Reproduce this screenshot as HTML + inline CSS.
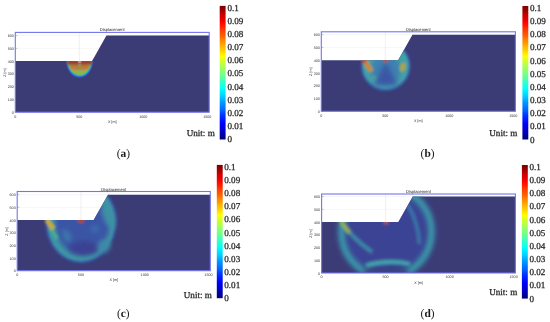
<!DOCTYPE html>
<html><head><meta charset="utf-8"><style>
html,body{margin:0;padding:0;background:#fff;}
body{width:550px;height:322px;overflow:hidden;}
svg{display:block;}
.tk{font-family:"Liberation Sans",sans-serif;font-size:3.7px;fill:#333;}
.ttl{font-family:"Liberation Sans",sans-serif;font-size:4.1px;fill:#222;}
.cb{font-family:"Liberation Serif",serif;font-size:9.1px;fill:#2a2a2a;stroke:#2a2a2a;stroke-width:0.28px;}
.tag{font-family:"Liberation Serif",serif;font-size:11.4px;fill:#1a1a1a;}
text{text-rendering:geometricPrecision;}
</style></head><body>
<svg width="550" height="322" viewBox="0 0 550 322">
<defs><linearGradient id="jet" x1="0" y1="0" x2="0" y2="1"><stop offset="0" stop-color="#800000"/><stop offset="0.03" stop-color="#990000"/><stop offset="0.05" stop-color="#b30000"/><stop offset="0.07" stop-color="#cc0000"/><stop offset="0.1" stop-color="#e50000"/><stop offset="0.12" stop-color="#ff0000"/><stop offset="0.15" stop-color="#ff1a00"/><stop offset="0.17" stop-color="#ff3300"/><stop offset="0.2" stop-color="#ff4c00"/><stop offset="0.23" stop-color="#ff6600"/><stop offset="0.25" stop-color="#ff8000"/><stop offset="0.28" stop-color="#ff9900"/><stop offset="0.3" stop-color="#ffb300"/><stop offset="0.33" stop-color="#ffcc00"/><stop offset="0.35" stop-color="#ffe500"/><stop offset="0.38" stop-color="#ffff00"/><stop offset="0.4" stop-color="#e5ff1a"/><stop offset="0.42" stop-color="#ccff33"/><stop offset="0.45" stop-color="#b3ff4c"/><stop offset="0.47" stop-color="#99ff66"/><stop offset="0.5" stop-color="#80ff80"/><stop offset="0.53" stop-color="#66ff99"/><stop offset="0.55" stop-color="#4cffb3"/><stop offset="0.57" stop-color="#33ffcc"/><stop offset="0.6" stop-color="#1affe5"/><stop offset="0.62" stop-color="#00ffff"/><stop offset="0.65" stop-color="#00e5ff"/><stop offset="0.68" stop-color="#00ccff"/><stop offset="0.7" stop-color="#00b3ff"/><stop offset="0.72" stop-color="#0099ff"/><stop offset="0.75" stop-color="#0080ff"/><stop offset="0.78" stop-color="#0066ff"/><stop offset="0.8" stop-color="#004cff"/><stop offset="0.82" stop-color="#0033ff"/><stop offset="0.85" stop-color="#001aff"/><stop offset="0.88" stop-color="#0000ff"/><stop offset="0.9" stop-color="#0000e5"/><stop offset="0.93" stop-color="#0000cc"/><stop offset="0.95" stop-color="#0000b3"/><stop offset="0.97" stop-color="#000099"/><stop offset="1" stop-color="#000080"/></linearGradient>
<filter id="bl05" x="-50%" y="-50%" width="200%" height="200%"><feGaussianBlur stdDeviation="0.6"/></filter>
<filter id="bl1" x="-50%" y="-50%" width="200%" height="200%"><feGaussianBlur stdDeviation="1.0"/></filter>
<filter id="bl15" x="-50%" y="-50%" width="200%" height="200%"><feGaussianBlur stdDeviation="1.4"/></filter>
<filter id="bl2" x="-50%" y="-50%" width="200%" height="200%"><feGaussianBlur stdDeviation="2.0"/></filter>
<filter id="bl25" x="-50%" y="-50%" width="200%" height="200%"><feGaussianBlur stdDeviation="2.6"/></filter>
<clipPath id="clipa"><polygon points="15.3,61.12 92.1,61.12 106.44,35.58 209.2,35.58 209.2,112.2 15.3,112.2"/></clipPath>
<clipPath id="clipb"><polygon points="321.3,60.22 398.1,60.22 412.44,34.68 515.4,34.68 515.4,111.3 321.3,111.3"/></clipPath>
<clipPath id="clipc"><polygon points="17.2,220.02 93.7,220.02 107.98,194.68 210.3,194.68 210.3,270.7 17.2,270.7"/></clipPath>
<clipPath id="clipd"><polygon points="321.6,222.08 398.4,222.08 412.74,196.62 515.4,196.62 515.4,273 321.6,273"/></clipPath></defs>
<rect x="15.3" y="32.4" width="193.9" height="79.8" fill="#fff"/>
<line x1="15.3" y1="48.35" x2="209.2" y2="48.35" stroke="#ececec" stroke-width="0.5"/>
<line x1="15.3" y1="48.35" x2="17.3" y2="48.35" stroke="#888" stroke-width="0.5"/>
<line x1="15.3" y1="35.58" x2="209.2" y2="35.58" stroke="#ececec" stroke-width="0.5"/>
<line x1="15.3" y1="35.58" x2="17.3" y2="35.58" stroke="#888" stroke-width="0.5"/>
<line x1="79.3" y1="32.4" x2="79.3" y2="61.12" stroke="#e0e0e0" stroke-width="0.5"/>
<polygon points="15.3,61.12 92.1,61.12 106.44,35.58 209.2,35.58 209.2,112.2 15.3,112.2" fill="#3b3c76"/>
<g clip-path="url(#clipa)"><g filter="url(#bl05)"><ellipse cx="79.6" cy="61.12" rx="13.8" ry="16.9" fill="#3a4aa6"/><ellipse cx="79.6" cy="61.12" rx="13.11" ry="16.05" fill="#2c6ccc"/><ellipse cx="79.6" cy="61.12" rx="12.28" ry="15.04" fill="#38aec0"/><ellipse cx="79.6" cy="61.12" rx="11.45" ry="14.03" fill="#78b864"/><ellipse cx="79.6" cy="61.12" rx="10.63" ry="13.01" fill="#a8aa4a"/><ellipse cx="80.6" cy="69.62" rx="4.5" ry="4" fill="#8cb45a" filter="url(#bl1)"/><ellipse cx="74.6" cy="68.12" rx="3" ry="3" fill="#b4a046" filter="url(#bl1)"/><ellipse cx="84.6" cy="67.12" rx="3" ry="3" fill="#bc9844" filter="url(#bl1)"/><ellipse cx="79.6" cy="66.62" rx="10.5" ry="3" fill="#b47a3e" filter="url(#bl1)"/><rect x="67.1" y="59.62" width="25" height="5" fill="#9c3e2e" filter="url(#bl1)"/><ellipse cx="79.6" cy="64.92" rx="1.2" ry="2.2" fill="#8aa86a" filter="url(#bl1)"/><ellipse cx="79.6" cy="61.72" rx="1.8" ry="1.4" fill="#d08a78" filter="url(#bl05)"/></g></g>
<rect x="15.3" y="32.4" width="193.9" height="79.8" fill="none" stroke="#7474f0" stroke-width="1.1"/>
<text x="13.8" y="113.8" class="tk" text-anchor="end">0</text>
<text x="13.8" y="101.03" class="tk" text-anchor="end">100</text>
<text x="13.8" y="88.26" class="tk" text-anchor="end">200</text>
<text x="13.8" y="75.49" class="tk" text-anchor="end">300</text>
<text x="13.8" y="62.72" class="tk" text-anchor="end">400</text>
<text x="13.8" y="49.95" class="tk" text-anchor="end">500</text>
<text x="13.8" y="37.18" class="tk" text-anchor="end">600</text>
<text x="15.3" y="117.5" class="tk" text-anchor="middle">0</text>
<text x="79.3" y="117.5" class="tk" text-anchor="middle">500</text>
<text x="143.3" y="117.5" class="tk" text-anchor="middle">1000</text>
<text x="207.3" y="117.5" class="tk" text-anchor="middle">1500</text>
<text x="112.2" y="122.8" class="tk" text-anchor="middle">X [m]</text>
<text x="6" y="72.61" class="tk" text-anchor="middle" transform="rotate(-90 6 72.61)">Z [m]</text>
<text x="112.25" y="31.4" class="ttl" text-anchor="middle">Displacement</text>
<rect x="219.7" y="5.9" width="5.9" height="133.6" fill="url(#jet)"/>
<text x="227.4" y="142.2" class="cb">0</text>
<text x="227.4" y="129.03" class="cb">0.01</text>
<text x="227.4" y="115.86" class="cb">0.02</text>
<text x="227.4" y="102.69" class="cb">0.03</text>
<text x="227.4" y="89.52" class="cb">0.04</text>
<text x="227.4" y="76.35" class="cb">0.05</text>
<text x="227.4" y="63.18" class="cb">0.06</text>
<text x="227.4" y="50.01" class="cb">0.07</text>
<text x="227.4" y="36.84" class="cb">0.08</text>
<text x="227.4" y="23.67" class="cb">0.09</text>
<text x="227.4" y="10.5" class="cb">0.1</text>
<text x="186.7" y="136" class="cb">Unit: m</text>
<text x="116.8" y="157.4" class="tag">(<tspan font-weight="bold">a</tspan>)</text>
<rect x="321.3" y="31.8" width="194.1" height="79.5" fill="#fff"/>
<line x1="321.3" y1="47.45" x2="515.4" y2="47.45" stroke="#ececec" stroke-width="0.5"/>
<line x1="321.3" y1="47.45" x2="323.3" y2="47.45" stroke="#888" stroke-width="0.5"/>
<line x1="321.3" y1="34.68" x2="515.4" y2="34.68" stroke="#ececec" stroke-width="0.5"/>
<line x1="321.3" y1="34.68" x2="323.3" y2="34.68" stroke="#888" stroke-width="0.5"/>
<line x1="385.3" y1="31.8" x2="385.3" y2="60.22" stroke="#e0e0e0" stroke-width="0.5"/>
<polygon points="321.3,60.22 398.1,60.22 412.44,34.68 515.4,34.68 515.4,111.3 321.3,111.3" fill="#3b3c76"/>
<g clip-path="url(#clipb)"><g filter="url(#bl1)"><circle cx="385.7" cy="65.97" r="24.8" fill="#3a66ac"/><circle cx="385.7" cy="65.97" r="22.8" fill="#44a2a6"/><ellipse cx="385.7" cy="69.97" rx="15" ry="16" fill="#3c82b0" filter="url(#bl2)"/><polygon points="385.7,61.22 373.7,84.97 397.7,84.97" fill="#3a56a6" filter="url(#bl25)"/><ellipse cx="373.7" cy="77.97" rx="3" ry="3" fill="#4a9aa0" filter="url(#bl1)"/><path d="M364.7,61.22 L371.7,71.22" stroke="#c48c40" stroke-width="5" fill="none"/><circle cx="364.2" cy="61.22" r="2.2" fill="#c85030"/><ellipse cx="402.7" cy="67.22" rx="2.8" ry="4.5" fill="#aaa444" transform="rotate(20 402.7 67.22)"/><circle cx="385.7" cy="60.22" r="2.3" fill="#c44a30"/></g></g>
<rect x="321.3" y="31.8" width="194.1" height="79.5" fill="none" stroke="#7474f0" stroke-width="1.1"/>
<text x="319.8" y="112.9" class="tk" text-anchor="end">0</text>
<text x="319.8" y="100.13" class="tk" text-anchor="end">100</text>
<text x="319.8" y="87.36" class="tk" text-anchor="end">200</text>
<text x="319.8" y="74.59" class="tk" text-anchor="end">300</text>
<text x="319.8" y="61.82" class="tk" text-anchor="end">400</text>
<text x="319.8" y="49.05" class="tk" text-anchor="end">500</text>
<text x="319.8" y="36.28" class="tk" text-anchor="end">600</text>
<text x="321.3" y="116.6" class="tk" text-anchor="middle">0</text>
<text x="385.3" y="116.6" class="tk" text-anchor="middle">500</text>
<text x="449.3" y="116.6" class="tk" text-anchor="middle">1000</text>
<text x="513.3" y="116.6" class="tk" text-anchor="middle">1500</text>
<text x="418.2" y="121.9" class="tk" text-anchor="middle">X [m]</text>
<text x="312" y="71.71" class="tk" text-anchor="middle" transform="rotate(-90 312 71.71)">Z [m]</text>
<text x="418.35" y="30.8" class="ttl" text-anchor="middle">Displacement</text>
<rect x="522.4" y="6" width="5.9" height="133.5" fill="url(#jet)"/>
<text x="529.9" y="142.6" class="cb">0</text>
<text x="529.9" y="129.43" class="cb">0.01</text>
<text x="529.9" y="116.26" class="cb">0.02</text>
<text x="529.9" y="103.09" class="cb">0.03</text>
<text x="529.9" y="89.92" class="cb">0.04</text>
<text x="529.9" y="76.75" class="cb">0.05</text>
<text x="529.9" y="63.58" class="cb">0.06</text>
<text x="529.9" y="50.41" class="cb">0.07</text>
<text x="529.9" y="37.24" class="cb">0.08</text>
<text x="529.9" y="24.07" class="cb">0.09</text>
<text x="529.9" y="10.9" class="cb">0.1</text>
<text x="489.3" y="136" class="cb">Unit: m</text>
<text x="420.6" y="157.4" class="tag">(<tspan font-weight="bold">b</tspan>)</text>
<rect x="17.2" y="191.5" width="193.1" height="79.2" fill="#fff"/>
<line x1="17.2" y1="207.35" x2="210.3" y2="207.35" stroke="#ececec" stroke-width="0.5"/>
<line x1="17.2" y1="207.35" x2="19.2" y2="207.35" stroke="#888" stroke-width="0.5"/>
<line x1="17.2" y1="194.68" x2="210.3" y2="194.68" stroke="#ececec" stroke-width="0.5"/>
<line x1="17.2" y1="194.68" x2="19.2" y2="194.68" stroke="#888" stroke-width="0.5"/>
<line x1="80.95" y1="191.5" x2="80.95" y2="220.02" stroke="#e0e0e0" stroke-width="0.5"/>
<polygon points="17.2,220.02 93.7,220.02 107.98,194.68 210.3,194.68 210.3,270.7 17.2,270.7" fill="#3b3c76"/>
<g clip-path="url(#clipc)"><g filter="url(#bl1)"><ellipse cx="81" cy="222" rx="35.8" ry="41.2" fill="#3a5aa8"/><ellipse cx="81" cy="222" rx="33.6" ry="39" fill="#3e98a4"/><ellipse cx="82.5" cy="223" rx="27.5" ry="32.5" fill="#3a54a6" filter="url(#bl2)"/><ellipse cx="67" cy="236" rx="3.5" ry="7" fill="#3a7cac" filter="url(#bl2)" transform="rotate(-30 67 236)"/><ellipse cx="95" cy="229" rx="4" ry="4" fill="#3a6cac" filter="url(#bl2)"/><ellipse cx="84" cy="248" rx="15" ry="7" fill="#3a4292" filter="url(#bl2)"/><ellipse cx="108" cy="214" rx="5.5" ry="15" fill="#3e92a6" filter="url(#bl2)" transform="rotate(-18 108 214)"/><ellipse cx="104" cy="246" rx="6" ry="7" fill="#3c8aa8" filter="url(#bl2)" transform="rotate(40 104 246)"/><path d="M50,226 L57,239" stroke="#4aa896" stroke-width="4" fill="none"/><path d="M46.5,219.5 L53.5,229" stroke="#c2aa40" stroke-width="5" fill="none"/><ellipse cx="81" cy="220.4" rx="3.2" ry="2.6" fill="#a84838"/></g></g>
<rect x="17.2" y="191.5" width="193.1" height="79.2" fill="none" stroke="#7474f0" stroke-width="1.1"/>
<text x="15.7" y="272.3" class="tk" text-anchor="end">0</text>
<text x="15.7" y="259.63" class="tk" text-anchor="end">100</text>
<text x="15.7" y="246.96" class="tk" text-anchor="end">200</text>
<text x="15.7" y="234.29" class="tk" text-anchor="end">300</text>
<text x="15.7" y="221.62" class="tk" text-anchor="end">400</text>
<text x="15.7" y="208.95" class="tk" text-anchor="end">500</text>
<text x="15.7" y="196.28" class="tk" text-anchor="end">600</text>
<text x="17.2" y="276" class="tk" text-anchor="middle">0</text>
<text x="80.95" y="276" class="tk" text-anchor="middle">500</text>
<text x="144.7" y="276" class="tk" text-anchor="middle">1000</text>
<text x="208.45" y="276" class="tk" text-anchor="middle">1500</text>
<text x="113.72" y="281.3" class="tk" text-anchor="middle">X [m]</text>
<text x="7.9" y="231.42" class="tk" text-anchor="middle" transform="rotate(-90 7.9 231.42)">Z [m]</text>
<text x="113.75" y="190.5" class="ttl" text-anchor="middle">Displacement</text>
<rect x="216.8" y="164.9" width="5.9" height="133.3" fill="url(#jet)"/>
<text x="224.3" y="301.1" class="cb">0</text>
<text x="224.3" y="287.99" class="cb">0.01</text>
<text x="224.3" y="274.88" class="cb">0.02</text>
<text x="224.3" y="261.77" class="cb">0.03</text>
<text x="224.3" y="248.66" class="cb">0.04</text>
<text x="224.3" y="235.55" class="cb">0.05</text>
<text x="224.3" y="222.44" class="cb">0.06</text>
<text x="224.3" y="209.33" class="cb">0.07</text>
<text x="224.3" y="196.22" class="cb">0.08</text>
<text x="224.3" y="183.11" class="cb">0.09</text>
<text x="224.3" y="170" class="cb">0.1</text>
<text x="183.8" y="297.7" class="cb">Unit: m</text>
<text x="117" y="316.6" class="tag">(<tspan font-weight="bold">c</tspan>)</text>
<rect x="321.6" y="194" width="193.8" height="79" fill="#fff"/>
<line x1="321.6" y1="209.35" x2="515.4" y2="209.35" stroke="#ececec" stroke-width="0.5"/>
<line x1="321.6" y1="209.35" x2="323.6" y2="209.35" stroke="#888" stroke-width="0.5"/>
<line x1="321.6" y1="196.62" x2="515.4" y2="196.62" stroke="#ececec" stroke-width="0.5"/>
<line x1="321.6" y1="196.62" x2="323.6" y2="196.62" stroke="#888" stroke-width="0.5"/>
<line x1="385.6" y1="194" x2="385.6" y2="222.08" stroke="#e0e0e0" stroke-width="0.5"/>
<polygon points="321.6,222.08 398.4,222.08 412.74,196.62 515.4,196.62 515.4,273 321.6,273" fill="#3b3c76"/>
<g clip-path="url(#clipd)"><g filter="url(#bl15)"><ellipse cx="386.5" cy="232" rx="43" ry="43" fill="#3a46a2" filter="url(#bl2)" opacity="0.7"/><circle cx="386.5" cy="232" r="45" fill="none" stroke="#3a7aa8" stroke-width="12" opacity="0.35"/><circle cx="386.5" cy="232" r="45" fill="none" stroke="#3a94a8" stroke-width="6" opacity="0.85"/><path d="M341.5,222 Q352,238 372,252" stroke="#3a92aa" stroke-width="3.8" fill="none" opacity="0.9"/><path d="M340.5,221 L349.5,233" stroke="#92b050" stroke-width="4" fill="none"/><path d="M366,265.5 Q388,259 410,264" stroke="#42a4ac" stroke-width="4.2" fill="none"/><path d="M408,205 Q418,222 419.5,244" stroke="#3a7eaa" stroke-width="3.6" fill="none" opacity="0.85"/><rect x="364" y="269.5" width="44" height="8" fill="#3b3c76" filter="url(#bl2)"/><circle cx="386" cy="222" r="2.3" fill="#c05a34"/></g></g>
<rect x="321.6" y="194" width="193.8" height="79" fill="none" stroke="#7474f0" stroke-width="1.1"/>
<text x="320.1" y="274.6" class="tk" text-anchor="end">0</text>
<text x="320.1" y="261.87" class="tk" text-anchor="end">100</text>
<text x="320.1" y="249.14" class="tk" text-anchor="end">200</text>
<text x="320.1" y="236.41" class="tk" text-anchor="end">300</text>
<text x="320.1" y="223.68" class="tk" text-anchor="end">400</text>
<text x="320.1" y="210.95" class="tk" text-anchor="end">500</text>
<text x="320.1" y="198.22" class="tk" text-anchor="end">600</text>
<text x="321.6" y="278.3" class="tk" text-anchor="middle">0</text>
<text x="385.6" y="278.3" class="tk" text-anchor="middle">500</text>
<text x="449.6" y="278.3" class="tk" text-anchor="middle">1000</text>
<text x="513.6" y="278.3" class="tk" text-anchor="middle">1500</text>
<text x="418.5" y="283.6" class="tk" text-anchor="middle">X [m]</text>
<text x="312.3" y="233.54" class="tk" text-anchor="middle" transform="rotate(-90 312.3 233.54)">Z [m]</text>
<text x="418.5" y="193" class="ttl" text-anchor="middle">Displacement</text>
<rect x="521.9" y="165" width="5.9" height="133.6" fill="url(#jet)"/>
<text x="529.5" y="301.6" class="cb">0</text>
<text x="529.5" y="288.44" class="cb">0.01</text>
<text x="529.5" y="275.28" class="cb">0.02</text>
<text x="529.5" y="262.12" class="cb">0.03</text>
<text x="529.5" y="248.96" class="cb">0.04</text>
<text x="529.5" y="235.8" class="cb">0.05</text>
<text x="529.5" y="222.64" class="cb">0.06</text>
<text x="529.5" y="209.48" class="cb">0.07</text>
<text x="529.5" y="196.32" class="cb">0.08</text>
<text x="529.5" y="183.16" class="cb">0.09</text>
<text x="529.5" y="170" class="cb">0.1</text>
<text x="489.2" y="295.4" class="cb">Unit: m</text>
<text x="420.6" y="316.6" class="tag">(<tspan font-weight="bold">d</tspan>)</text>
</svg>
</body></html>
